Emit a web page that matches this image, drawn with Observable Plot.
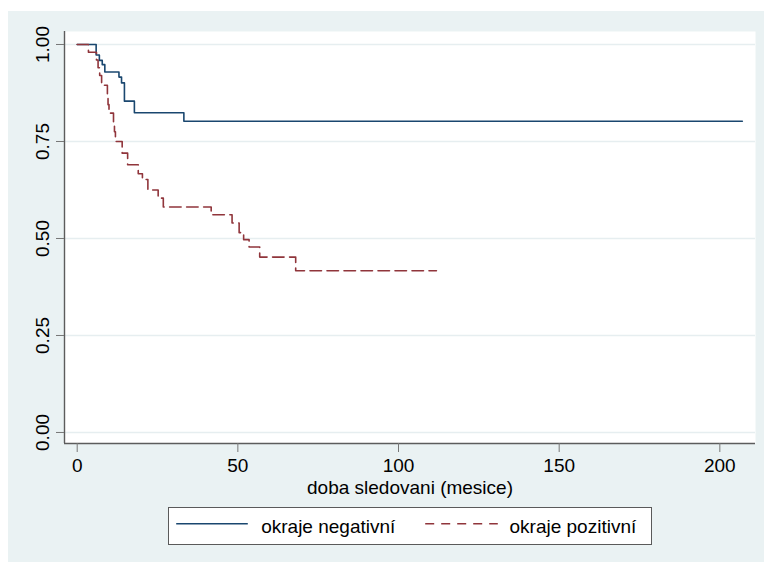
<!DOCTYPE html>
<html><head><meta charset="utf-8">
<script src="https://cdn.jsdelivr.net/npm/d3@7"></script>
<script src="https://cdn.jsdelivr.net/npm/@observablehq/plot@0.6"></script>
<style>
html,body{margin:0;padding:0;background:#fff;}
#bg{position:absolute;left:8px;top:11px;width:756px;height:551px;background:#eaf2f3;}
#chart{position:absolute;left:0;top:0;}
#legend{position:absolute;left:160px;top:496px;width:484px;height:38px;box-sizing:border-box;border:1.5px solid #5a5a5a;background:#fff;}
#legend svg{position:absolute;left:0;top:0;}
</style></head>
<body>
<div id="bg"><div id="chart"></div><div id="legend"></div></div>
<script>
// Kaplan-Meier step data (time in months, survival)
const negTime = [0, 5.9, 6.9, 7.8, 8.6, 13.0, 13.8, 14.7, 17.8, 33.2, 207];
const negSurv = [1, 0.973, 0.959, 0.948, 0.929, 0.916, 0.901, 0.854, 0.824, 0.802, 0.802];
const posTime = [0, 3.5, 6, 6.5, 7, 7.6, 9.4, 9.6, 9.9, 11.3, 11.6, 11.9, 14, 15.7, 19, 20.3, 22, 25.2, 26.8, 41.7, 48.2, 50.4, 51.8, 53.5, 56.8, 68, 111.8];
const posSurv = [1, 0.98, 0.96, 0.94, 0.92, 0.895, 0.87, 0.845, 0.823, 0.80, 0.775, 0.75, 0.72, 0.69, 0.667, 0.652, 0.625, 0.604, 0.581, 0.561, 0.54, 0.515, 0.497, 0.478, 0.452, 0.417, 0.417];
const xTicks = [0, 50, 100, 150, 200];
const yTicks = [0, 0.25, 0.5, 0.75, 1];
const xLabel = "doba sledovani (mesice)";
const seriesNames = ["okraje negativní", "okraje pozitivní"];
const colors = ["#1a476f", "#90353b"];

const neg = negTime.map((t, i) => ({t, s: negSurv[i]}));
const pos = posTime.map((t, i) => ({t, s: posSurv[i]}));
const xDomain = [-3.95, 211.1];
const yDomain = [-0.0284, 1.0335];
const font = "'Liberation Sans', Arial, sans-serif";

const chart = Plot.plot({
  width: 756, height: 492,
  marginLeft: 56, marginRight: 9, marginTop: 20, marginBottom: 60,
  x: {domain: xDomain},
  y: {domain: yDomain},
  style: {background: "transparent", fontFamily: font, fontSize: "19px", color: "#000"},
  marks: [
    Plot.frame({fill: "#fff", stroke: "none"}),
    Plot.ruleY(yTicks, {stroke: "#e6eef0", strokeWidth: 1.5}),
    Plot.ruleX([xDomain[0]], {stroke: "#5c5c5c", strokeWidth: 1.4}),
    Plot.ruleY([yDomain[0]], {stroke: "#5c5c5c", strokeWidth: 1.4}),
    Plot.axisX(xTicks, {tickSize: 9, tickPadding: 6, fontSize: 19, stroke: "#777", fill: "#000", label: null}),
    Plot.axisY(yTicks, {tickSize: 8, tickFormat: () => "", stroke: "#777", label: null}),
    Plot.text(yTicks, {y: d => d, text: d => d3.format(".2f")(d), frameAnchor: "left", dx: -15.5, rotate: -90, textAnchor: "middle", lineAnchor: "bottom", fontSize: 19, fill: "#000"}),
    Plot.text([xLabel], {text: d => d, frameAnchor: "bottom", dy: 50, lineAnchor: "bottom", fontSize: 19, fill: "#000"}),
    Plot.line(neg, {x: "t", y: "s", curve: "step-after", stroke: colors[0], strokeWidth: 1.6}),
    Plot.line(pos, {x: "t", y: "s", curve: "step-after", stroke: colors[1], strokeWidth: 1.6, strokeDasharray: "11.5,5.5"})
  ]
});
document.getElementById("chart").appendChild(chart);

// Legend
const lg = d3.select("#legend").append("svg").attr("width", 481).attr("height", 35)
  .style("font-family", font).style("font-size", "19px");
const items = [
  {x1: 7.2, x2: 78.8, tx: 92.2, dash: null},
  {x1: 256.2, x2: 328.8, tx: 340.5, dash: "9,7"}
];
items.forEach((it, i) => {
  lg.append("line").attr("x1", it.x1).attr("x2", it.x2).attr("y1", 15.8).attr("y2", 15.8)
    .attr("stroke", colors[i]).attr("stroke-width", 1.6).attr("stroke-dasharray", it.dash);
  lg.append("text").attr("x", it.tx).attr("y", 24.5).attr("fill", "#000").text(seriesNames[i]);
});
</script>
</body></html>
